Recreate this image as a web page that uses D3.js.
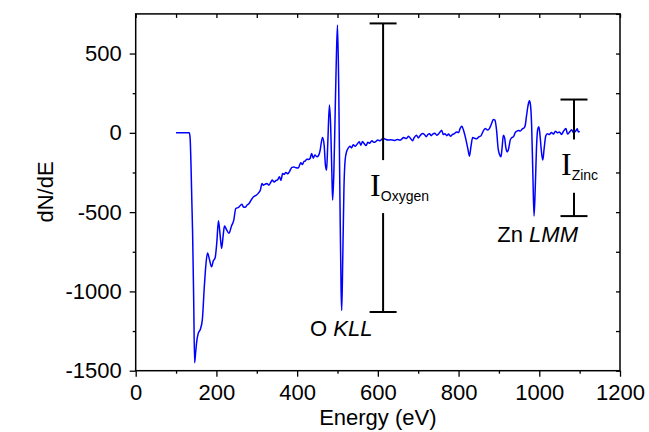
<!DOCTYPE html>
<html>
<head>
<meta charset="utf-8">
<script src="https://cdn.jsdelivr.net/npm/d3@7"></script>
<style>
  html, body { margin: 0; padding: 0; background: #fff; }
  svg { display: block; }
  text { font-family: "Liberation Sans", Arial, sans-serif; fill: #000; }
</style>
</head>
<body>
<div id="chart"></div>
<script>
// ---- data ----
const energy = [100,110,120,130,133,135,137,139,141,143.7,146,148,151,155,160,165,170,174,178,182,188,192,197,201,205,209,213,217,220,225,231,237,243,248,255,263,267,271,276,281,287,292,298,304,309,313,316,320,325,330,335,338,343,348,352,356,360,364,368,372,377,382,387,392,397,403,409,413,417,420,424,428,432,436,440,444,449,453,457,460,463,467,470,473,476,480,483,486,488,491,494,497,500,503,506,509,510.5,513,516,519,523,527,531,535,539,544,549,554,558,562,566,571,575,580,585,590,595,600,605,610,615,620,626,631,636,642,648,655,660,663,667,671,676,681,686,690,696,700,704,708,711,716,720,724,728,732,736,741,746,750,754,758,762,766,771,775,780,785,790,795,800,804,808,813,818,823,827,831,835,840,845,850,855,860,866,872,877,882,886,890,894,898,902,905,908,911,914,917,920,924,928,932,936,940,944,949,953,958,962,965,968,972,975.5,978,981,984,987,990,993,996,999,1002,1005,1008.7,1012,1016,1020,1025,1030,1035,1040,1045,1050,1055,1060,1066,1070,1075,1080,1085,1090,1094,1097,1100];
const dNdE = [0,0,0,0,0,-40,-200,-420,-632,-1055,-1450,-1400,-1320,-1265,-1240,-1181,-971,-830,-757,-790,-845,-810,-786,-690,-555,-640,-729,-640,-588,-610,-634,-590,-550,-477,-470,-450,-468,-470,-455,-445,-420,-403,-395,-380,-360,-319,-330,-325,-319,-330,-310,-298,-310,-300,-295,-277,-300,-256,-262,-250,-258,-240,-218,-216,-220,-221,-189,-200,-180,-178,-166,-168,-162,-130,-160,-140,-151,-143,-110,-60,-29,-80,-200,-235,-60,175,50,-250,-424,-250,100,450,680,300,-400,-1000,-1120,-800,-350,-170,-115,-95,-85,-95,-75,-85,-70,-57,-78,-55,-68,-80,-60,-65,-50,-60,-55,-45,-50,-40,-36,-42,-45,-44,-45,-48,-42,-46,-38,-29,-33,-36,-22,-35,-50,-30,-15,-32,-20,-8,-4,-12,-25,-10,-5,-18,-8,-2,-15,-8,5,17,-10,-5,-18,-8,-22,-10,-5,6,2,28,42,10,-40,-100,-147,-80,-30,-35,-38,-25,-20,5,28,18,30,60,84,80,20,-98,-140,-151,-90,-15,-30,-90,-120,-100,-46,-30,-25,0,10,15,12,25,30,45,100,170,202,180,50,-250,-525,-350,-100,20,38,-20,-110,-172,-100,-20,-5,-10,2,-8,10,0,5,-10,10,28,-8,5,20,0,10,25,5,10];

const xTicks = [0,200,400,600,800,1000,1200];
const yTicks = [-1500,-1000,-500,0,500];
const xLabel = "Energy (eV)";
const yLabel = "dN/dE";

// intensity bars: [energy, top, bottom, gapTop, gapBottom]
const barEnergy = [613, 1086];
const barTop = [690, 210];
const barBottom = [-1130, -525];
const gapTop = [-172, -42];
const gapBottom = [-506, -378];
const barSub = ["Oxygen", "Zinc"];
const peakLabels = [
  {main: "O ", ital: "KLL", e: 432, v: -1280},
  {main: "Zn ", ital: "LMM", e: 896, v: -687}
];

// ---- layout ----
const W = 649, H = 432;
const M = {left: 135.7, right: 29, top: 13.9, bottom: 61.3};
const iw = W - M.left - M.right, ih = H - M.top - M.bottom;

const svg = d3.select("#chart").append("svg").attr("width", W).attr("height", H);
const g = svg.append("g").attr("transform", `translate(${M.left},${M.top})`);

const x = d3.scaleLinear().domain([0, 1200]).range([0, iw]);
const y = d3.scaleLinear().domain([-1500, 750]).range([ih, 0]);

const fs = 22;
const fmt = d => String(d);   // plain hyphen-minus, as in the reference

// minor ticks
const xMinor = d3.range(100, 1200, 200);
const yMinor = d3.range(-1250, 750, 500);
const xAll = d3.range(0, 1201, 100);
const yAll = d3.range(-1500, 751, 250);

function styleAxis(sel) {
  sel.select(".domain").remove();
  sel.selectAll("line").attr("stroke", "#000").attr("stroke-width", 1.3);
  sel.selectAll("text").attr("font-size", fs).attr("font-family", '"Liberation Sans", Arial, sans-serif');
}

g.append("g").attr("transform", `translate(0,${ih})`)
  .call(d3.axisBottom(x).tickValues(xTicks).tickSize(6).tickPadding(8).tickSizeOuter(0).tickFormat(fmt))
  .call(styleAxis);
g.append("g").attr("transform", `translate(0,${ih})`)
  .call(d3.axisBottom(x).tickValues(xMinor).tickSize(3).tickFormat(""))
  .call(styleAxis);
g.append("g")
  .call(d3.axisLeft(y).tickValues(yTicks).tickSize(6).tickPadding(8).tickSizeOuter(0).tickFormat(fmt))
  .call(styleAxis);
g.append("g")
  .call(d3.axisLeft(y).tickValues(yMinor).tickSize(3).tickFormat(""))
  .call(styleAxis);
g.append("g")
  .call(d3.axisTop(x).tickValues(xAll).tickSize(-4).tickFormat(""))
  .call(styleAxis);
g.append("g").attr("transform", `translate(${iw},0)`)
  .call(d3.axisRight(y).tickValues(yAll).tickSize(-4).tickFormat(""))
  .call(styleAxis);

// frame
g.append("rect").attr("x", 0).attr("y", 0).attr("width", iw).attr("height", ih)
  .attr("fill", "none").attr("stroke", "#000").attr("stroke-width", 1.5);

// axis titles
svg.append("text").attr("x", M.left + iw / 2).attr("y", 425)
  .attr("text-anchor", "middle").attr("font-size", fs).text(xLabel);
svg.append("text").attr("transform", `translate(53,192) rotate(-90)`)
  .attr("text-anchor", "middle").attr("font-size", fs).text(yLabel);

// spectrum
const pts = energy.map((e, i) => [e, dNdE[i]]);
g.append("path").datum(pts)
  .attr("fill", "none").attr("stroke", "#0000ff").attr("stroke-width", 1.5)
  .attr("stroke-linejoin", "round")
  .attr("d", d3.line().x(d => x(d[0])).y(d => y(d[1])).curve(d3.curveMonotoneX));

// intensity bars
barEnergy.forEach((e, i) => {
  const bx = x(e), cw = 13.5;
  const bars = g.append("g").attr("stroke", "#000").attr("stroke-width", 2);
  bars.append("line").attr("x1", bx).attr("x2", bx).attr("y1", y(barTop[i])).attr("y2", y(gapTop[i]));
  bars.append("line").attr("x1", bx).attr("x2", bx).attr("y1", y(gapBottom[i])).attr("y2", y(barBottom[i]));
  bars.append("line").attr("x1", bx - cw).attr("x2", bx + cw).attr("y1", y(barTop[i])).attr("y2", y(barTop[i]));
  bars.append("line").attr("x1", bx - cw).attr("x2", bx + cw).attr("y1", y(barBottom[i])).attr("y2", y(barBottom[i]));
  // label "I" with subscript
  const ly = (y(gapTop[i]) + y(gapBottom[i])) / 2 + 9;
  const t = g.append("text").attr("x", bx - 13).attr("y", ly);
  t.append("tspan").attr("font-family", '"Liberation Serif", "Times New Roman", serif').attr("font-size", 32).text("I");
  t.append("tspan").attr("font-size", 14).attr("dy", 5).text(barSub[i]);
});

// peak labels
peakLabels.forEach(p => {
  const t = g.append("text").attr("x", x(p.e)).attr("y", y(p.v)).attr("font-size", fs);
  t.append("tspan").text(p.main);
  t.append("tspan").attr("font-style", "italic").text(p.ital);
});
</script>
</body>
</html>
